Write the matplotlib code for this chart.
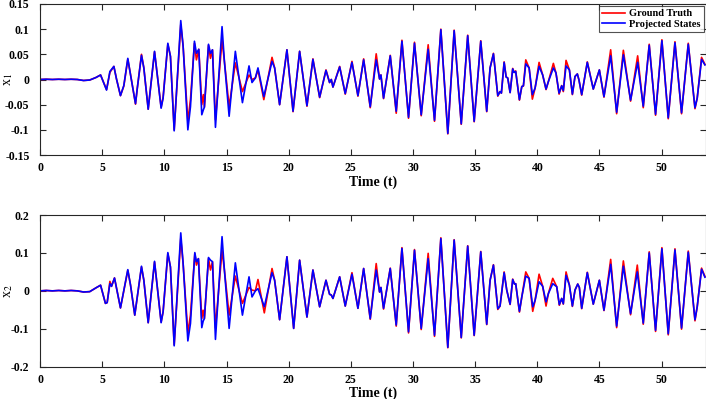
import numpy as np
import matplotlib
matplotlib.use("Agg")
import matplotlib.pyplot as plt

# values (local extrema and turning points)
t1 = [0.0, 0.5, 1.0, 1.5, 2.0, 2.5, 3.0, 3.5, 4.0, 4.5, 4.87, 5.35, 5.62, 5.94, 6.15, 6.47, 6.74,
      7.06, 7.28, 7.68, 7.81, 8.16, 8.35, 8.70, 9.21, 9.74, 9.90, 10.28, 10.49, 10.79, 11.32, 11.51,
      11.89, 12.10, 12.42, 12.58, 12.77, 13.01, 13.14, 13.22, 13.55, 13.71, 13.87, 14.11, 14.64,
      14.83, 15.21, 15.71, 16.28, 16.81, 17.05, 17.32, 17.53, 18.00, 18.66, 18.87, 19.27, 19.86,
      20.35, 20.88, 21.47, 21.95, 22.49, 23.00, 23.29, 23.43, 23.56, 24.10, 24.55, 25.09, 25.57,
      26.03, 26.56, 27.04, 27.31, 27.42, 27.63, 28.17, 28.65, 29.11, 29.64, 30.12, 30.66, 31.22,
      31.73, 32.24, 32.80, 33.31, 33.88, 34.40, 34.92, 35.45, 35.93, 36.20, 36.47, 36.82, 37.00,
      37.11, 37.33, 37.49, 37.62, 37.81, 38.02, 38.13, 38.26, 38.56, 38.75, 38.88, 39.07, 39.34,
      39.60, 39.82, 40.14, 40.43, 40.70, 40.89, 41.29, 41.50, 41.75, 41.96, 42.09, 42.31, 42.58,
      42.82, 43.03, 43.22, 43.35, 43.57, 44.02, 44.50, 44.99, 45.36, 45.90, 46.38, 46.92, 47.50,
      48.07, 48.52, 49.00, 49.51, 50.02, 50.53, 51.07, 51.60, 52.14, 52.68, 52.86, 53.21, 53.48]
x1_true = [0, 0.0005, 0, 0.0005, 0, 0.0005, 0, -0.002, -0.001, 0.004, 0.009, -0.020, 0.014, 0.026,
           0.001, -0.032, -0.013, 0.040, 0.010, -0.049, -0.020, 0.050, 0.023, -0.059, 0.055, -0.055,
           -0.035, 0.070, 0.046, -0.100, 0.109, 0.066, -0.083, -0.040, 0.072, 0.039, 0.060, -0.050,
           -0.030, -0.055, 0.068, 0.042, 0.059, -0.080, 0.079, 0.036, -0.054, 0.033, -0.024, 0.009,
           0.000, 0.003, 0.019, -0.040, 0.044, 0.023, -0.050, 0.059, -0.064, 0.056, -0.053, 0.041,
           -0.036, 0.019, -0.006, 0.000, -0.015, 0.026, -0.029, 0.036, -0.033, 0.041, -0.056, 0.051,
           0.001, 0.009, -0.038, 0.048, -0.067, 0.078, -0.077, 0.074, -0.072, 0.069, -0.083, 0.100,
           -0.108, 0.098, -0.089, 0.088, -0.084, 0.077, -0.064, 0.023, 0.052, -0.033, -0.024, -0.027,
           0.035, 0.005, 0.003, -0.026, 0.022, 0.014, 0.017, -0.041, -0.014, -0.013, 0.039, 0.023,
           -0.039, -0.017, 0.034, 0.009, -0.020, -0.004, 0.032, 0.013, -0.029, -0.012, -0.024, 0.038,
           0.019, -0.030, 0.006, 0.011, -0.001, -0.031, 0.035, -0.019, 0.019, -0.035, 0.059, -0.068,
           0.058, -0.043, 0.047, -0.056, 0.070, -0.071, 0.079, -0.078, 0.075, -0.068, 0.072, -0.058,
           -0.037, 0.044, 0.030]
x1_proj = [0, 0.0005, 0, 0.0005, 0, 0.0005, 0, -0.002, -0.001, 0.004, 0.009, -0.021, 0.016, 0.026,
           0.001, -0.032, -0.012, 0.042, 0.009, -0.048, -0.020, 0.048, 0.023, -0.059, 0.056, -0.057,
           -0.037, 0.072, 0.046, -0.102, 0.117, 0.066, -0.100, -0.054, 0.076, 0.052, 0.060, -0.070,
           -0.060, -0.055, 0.070, 0.052, 0.059, -0.095, 0.105, 0.036, -0.073, 0.056, -0.046, 0.027,
           -0.006, 0.003, 0.023, -0.034, 0.036, 0.023, -0.050, 0.059, -0.063, 0.056, -0.052, 0.040,
           -0.035, 0.018, -0.006, 0.000, -0.015, 0.025, -0.028, 0.034, -0.032, 0.039, -0.054, 0.039,
           0.001, 0.009, -0.037, 0.047, -0.063, 0.076, -0.075, 0.072, -0.070, 0.060, -0.081, 0.099,
           -0.107, 0.097, -0.088, 0.087, -0.083, 0.076, -0.063, 0.023, 0.051, -0.032, -0.024, -0.027,
           0.034, 0.005, 0.003, -0.026, 0.021, 0.014, 0.016, -0.040, -0.014, -0.0125, 0.031, 0.023,
           -0.030, -0.017, 0.026, 0.009, -0.019, -0.004, 0.023, 0.013, -0.027, -0.0125, -0.022, 0.027,
           0.019, -0.029, 0.006, 0.011, -0.001, -0.030, 0.034, -0.019, 0.019, -0.034, 0.047, -0.065,
           0.049, -0.041, 0.034, -0.053, 0.068, -0.069, 0.077, -0.076, 0.073, -0.066, 0.070, -0.056,
           -0.037, 0.040, 0.029]

t2 = [0.0, 0.5, 1.0, 1.5, 2.0, 2.5, 3.0, 3.5, 4.0, 4.5, 4.87, 5.26, 5.40, 5.62, 5.75, 5.99, 6.20,
      6.47, 7.06, 7.28, 7.62, 8.16, 8.35, 8.70, 9.21, 9.74, 9.90, 10.28, 10.49, 10.79, 11.32, 11.51,
      11.89, 12.10, 12.45, 12.58, 12.74, 13.01, 13.12, 13.22, 13.55, 13.71, 13.87, 14.11, 14.64,
      14.83, 15.21, 15.71, 16.28, 16.81, 17.05, 17.32, 17.53, 18.04, 18.66, 18.87, 19.27, 19.86,
      20.40, 20.88, 21.47, 21.95, 22.49, 23.00, 23.29, 23.43, 23.56, 24.10, 24.55, 25.09, 25.57,
      26.03, 26.56, 27.04, 27.31, 27.42, 27.63, 28.17, 28.65, 29.11, 29.64, 30.12, 30.66, 31.22,
      31.73, 32.24, 32.80, 33.31, 33.88, 34.40, 34.92, 35.45, 35.93, 36.20, 36.47, 36.82, 37.00,
      37.33, 37.54, 37.81, 38.02, 38.16, 38.26, 38.56, 38.75, 39.07, 39.34, 39.63, 39.82, 40.14,
      40.43, 40.70, 40.89, 41.24, 41.56, 41.77, 41.96, 42.09, 42.31, 42.58, 42.82, 43.03, 43.25,
      43.38, 43.57, 44.02, 44.50, 44.99, 45.36, 45.90, 46.38, 46.92, 47.50, 48.04, 48.52, 49.00,
      49.51, 50.02, 50.53, 51.07, 51.60, 52.14, 52.68, 52.86, 53.21, 53.48]
x2_true = [0, 0.001, 0, 0.001, 0, 0.001, 0, -0.003, -0.002, 0.008, 0.015, -0.033, -0.031, 0.025,
           0.012, 0.034, 0.000, -0.045, 0.054, 0.015, -0.064, 0.063, 0.028, -0.084, 0.076, -0.082,
           -0.055, 0.098, 0.063, -0.142, 0.138, 0.072, -0.111, -0.064, 0.098, 0.068, 0.085, -0.073,
           -0.051, -0.073, 0.085, 0.055, 0.077, -0.098, 0.107, 0.055, -0.064, 0.039, -0.033, 0.009,
           0.002, 0.000, 0.030, -0.058, 0.059, 0.028, -0.076, 0.090, -0.099, 0.081, -0.069, 0.055,
           -0.042, 0.028, -0.009, -0.011, -0.020, 0.037, -0.040, 0.048, -0.046, 0.059, -0.075, 0.072,
           -0.003, 0.009, -0.048, 0.060, -0.093, 0.114, -0.111, 0.109, -0.102, 0.099, -0.120, 0.140,
           -0.150, 0.135, -0.124, 0.119, -0.118, 0.104, -0.089, 0.028, 0.069, -0.049, -0.040, 0.050,
           0.002, -0.036, 0.031, 0.018, 0.019, -0.056, -0.016, 0.050, 0.033, -0.054, -0.025, 0.044,
           0.012, -0.040, -0.007, 0.033, 0.011, -0.038, -0.020, -0.035, 0.050, 0.015, -0.041, 0.002,
           0.018, 0.009, -0.047, 0.049, -0.035, 0.028, -0.052, 0.083, -0.097, 0.079, -0.063, 0.068,
           -0.088, 0.103, -0.107, 0.114, -0.116, 0.111, -0.101, 0.105, -0.079, -0.042, 0.060, 0.038]
x2_proj = [0, 0.001, 0, 0.001, 0, 0.001, 0, -0.003, -0.002, 0.008, 0.015, -0.033, -0.031, 0.019,
           0.012, 0.034, 0.000, -0.045, 0.056, 0.015, -0.064, 0.065, 0.028, -0.084, 0.078, -0.084,
           -0.055, 0.101, 0.063, -0.145, 0.153, 0.072, -0.132, -0.086, 0.101, 0.077, 0.085, -0.097,
           -0.080, -0.073, 0.088, 0.081, 0.077, -0.128, 0.143, 0.055, -0.099, 0.074, -0.064, 0.037,
           -0.016, 0.000, 0.006, -0.042, 0.048, 0.028, -0.076, 0.090, -0.099, 0.081, -0.069, 0.055,
           -0.042, 0.028, -0.009, -0.011, -0.020, 0.037, -0.040, 0.044, -0.046, 0.059, -0.073, 0.055,
           -0.003, 0.009, -0.046, 0.059, -0.090, 0.112, -0.108, 0.107, -0.099, 0.085, -0.117, 0.138,
           -0.149, 0.134, -0.123, 0.118, -0.117, 0.103, -0.088, 0.028, 0.068, -0.047, -0.040, 0.048,
           0.002, -0.035, 0.030, 0.018, 0.019, -0.054, -0.016, 0.039, 0.033, -0.042, -0.025, 0.024,
           0.012, -0.029, -0.007, 0.019, 0.011, -0.036, -0.020, -0.034, 0.041, 0.015, -0.040, 0.002,
           0.018, 0.009, -0.046, 0.048, -0.035, 0.028, -0.051, 0.070, -0.093, 0.065, -0.060, 0.050,
           -0.085, 0.100, -0.104, 0.111, -0.113, 0.108, -0.098, 0.102, -0.076, -0.042, 0.057, 0.036]

xticks = np.arange(0, 55, 5)
yticks1 = [-0.15, -0.1, -0.05, 0, 0.05, 0.1, 0.15]
yticks2 = [-0.2, -0.1, 0, 0.1, 0.2]

plt.rcParams['font.family'] = 'Liberation Serif'
plt.rcParams['mathtext.fontset'] = 'stix'

fig = plt.figure(figsize=(7.06, 3.99), dpi=100)
ax1 = fig.add_axes([0.0567, 0.6115, 0.943, 0.3785])
ax2 = fig.add_axes([0.0567, 0.081, 0.943, 0.380])

panels = [(ax1, t1, x1_true, x1_proj, yticks1, (-0.15, 0.15), 'x$_1$'),
          (ax2, t2, x2_true, x2_proj, yticks2, (-0.2, 0.2), 'x$_2$')]
for ax, t, xt, xp, yt, yl, lab in panels:
    ax.plot(t, xt, color='#ff0000', lw=1.2, label='Ground Truth')
    ax.plot(t, xp, color='#0000ff', lw=1.2, label='Projected States')
    ax.set_xlim(0, 53.55)
    ax.set_ylim(*yl)
    ax.set_xticks(xticks)
    ax.set_yticks(yt)
    ax.set_yticklabels([('%g' % v) for v in yt])
    ax.tick_params(direction='in', top=True, right=True, length=4, width=0.8,
                   color='#262626', labelsize=8.5)
    ax.tick_params(axis='y', pad=7.5)
    ax.tick_params(axis='x', pad=5)
    for lbl in ax.get_xticklabels() + ax.get_yticklabels():
        lbl.set_fontweight('bold')
    for s in ax.spines.values():
        s.set_color('#262626')
        s.set_linewidth(0.8)
    ax.set_xlabel('Time (t)', fontsize=10, fontweight='bold', labelpad=1)
    ax.set_ylabel(lab, fontsize=10)
    ax.yaxis.set_label_coords(-0.037, 0.5)

leg = ax1.legend(loc='upper right', prop={'weight': 'bold', 'size': 7.5},
                 frameon=True, fancybox=False, borderpad=0.3, labelspacing=0.1,
                 handlelength=2.2, handletextpad=0.4, borderaxespad=0.2)
leg.get_frame().set_edgecolor('#262626')
leg.get_frame().set_linewidth(0.8)

fig.savefig('out.png', dpi=100)
